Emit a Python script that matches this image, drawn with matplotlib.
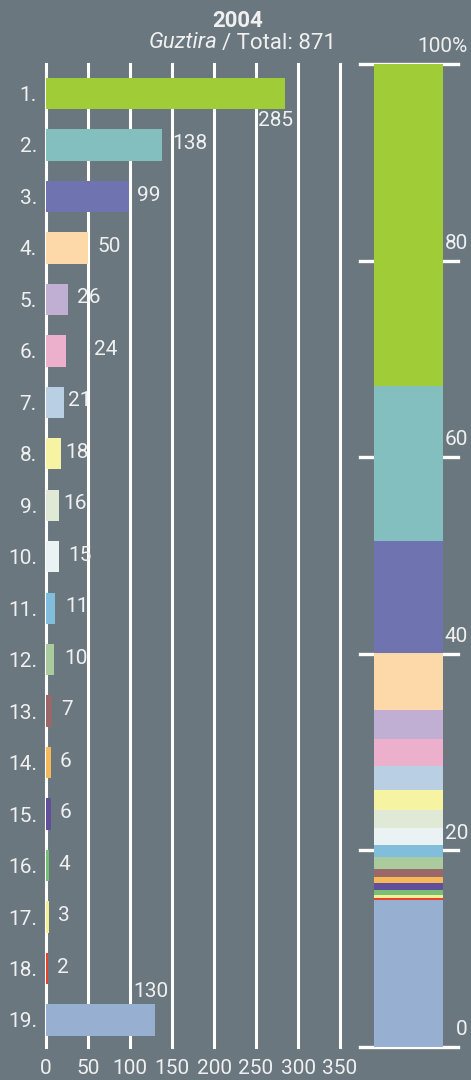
import numpy as np
import matplotlib.pyplot as plt

plt.rcParams['font.family'] = ['Roboto', 'DejaVu Sans']

# data
ranks = [f"{i}." for i in range(1, 20)]
values = [285, 138, 99, 50, 26, 24, 21, 18, 16, 15, 11, 10, 7, 6, 6, 4, 3, 2, 130]
colors = ['#a0cd37', '#84bfc0', '#6f74b0', '#fdd8a8', '#c1aed3', '#edb0cc',
          '#b9cfe3', '#f6f3a3', '#dfe9d5', '#eaf2f3', '#80bedb', '#aacb9e',
          '#9a6868', '#f6b95a', '#624f9c', '#77c073', '#f7ef95', '#e8412e',
          '#97afd1']
total = 871
year = "2004"
pct_ticks = [0, 20, 40, 60, 80, 100]

# label nudges in pixels (dx from bar end, dy downwards)
label_nudge = [(-27, 28), (10, 0), (8, 0), (9, 0), (9, 0), (28, 0), (4, 0),
               (4, 0), (4, 0), (10, 0), (10, 0), (10, 0), (9, 0), (9, 0),
               (9, 0), (9, 0), (9, 0), (9, 0), (-22, -27)]

bg = '#6a777f'
txt = '#f0f0f0'
fs = 15
W, H = 471, 1080
fig = plt.figure(figsize=(W / 100, H / 100), dpi=100, facecolor=bg)

top_px, bot_px = 64, 1047
ax = fig.add_axes([46 / W, 1 - bot_px / H, 294 / W, (bot_px - top_px) / H])
ax.set_facecolor(bg)
y = np.arange(1, 20)
ax.barh(y, values, height=0.61, color=colors, zorder=3)
ax.set_xlim(0, 350)
ax.set_ylim(19.525, 0.427)
ax.set_xticks(range(0, 351, 50))
ax.set_yticks(y)
ax.set_yticklabels(ranks)
ax.grid(axis='x', color='white', lw=2.2, zorder=1)
for gl in ax.get_xgridlines():
    gl.set_clip_on(False)
for s in ax.spines.values():
    s.set_visible(False)
ax.tick_params(axis='x', length=0, pad=9, labelsize=fs, labelcolor=txt)
ax.tick_params(axis='y', length=0, pad=6.5, labelsize=fs, labelcolor=txt)

for yi, v, (dx, dy) in zip(y, values, label_nudge):
    ax.annotate(str(v), (v, yi), xytext=(dx * 0.72, -dy * 0.72 + 1),
                textcoords='offset points', ha='left', va='center',
                fontsize=fs, color=txt, zorder=4)

# stacked 100% bar
ax2 = fig.add_axes([360 / W, 1 - bot_px / H, 98 / W, (bot_px - top_px) / H])
ax2.set_facecolor(bg)
ax2.set_xlim(0, 1)
ax2.set_ylim(0, 100)
ax2.axis('off')
for t in pct_ticks:
    ax2.axhline(t, color='white', lw=2.4, zorder=1, clip_on=False)
    lab = f"{t}%" if t == 100 else str(t)
    ax2.annotate(lab, (1.102, t), xycoords=('axes fraction', 'data'),
                 xytext=(0, 12.5), textcoords='offset points',
                 ha='right', va='center', fontsize=fs, color=txt,
                 annotation_clip=False)

bottom = 0.0
for v, c in zip(values[::-1], colors[::-1]):
    p = v / total * 100
    ax2.bar(0.495, p, width=0.704, bottom=bottom, color=c, zorder=3)
    bottom += p

# title
fig.text(238 / W, 1 - 21 / H, year, ha='center', va='center',
         fontsize=fs + 1, fontweight='bold', color=txt)
fig.text(218 / W, 1 - 43 / H, "Guztira", ha='right', va='center',
         fontsize=fs + 1, fontstyle='italic', color=txt)
fig.text(222 / W, 1 - 43 / H, "/ Total: " + str(total), ha='left',
         va='center', fontsize=fs + 1, color=txt)

fig.savefig('out.png', dpi=100, facecolor=bg)
